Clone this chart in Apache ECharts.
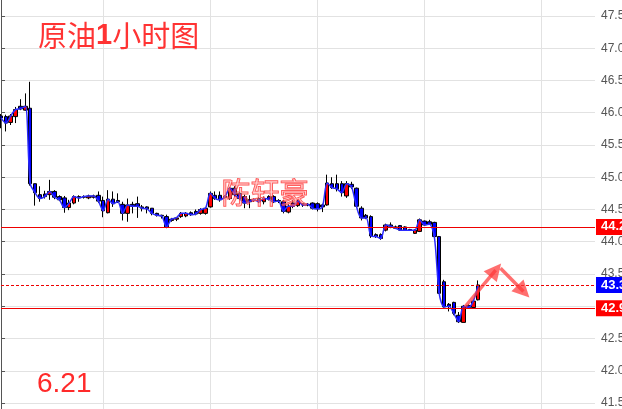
<!DOCTYPE html>
<html>
<head>
<meta charset="utf-8">
<script src="https://cdn.jsdelivr.net/npm/echarts@6/dist/echarts.min.js"></script>
<style>
html,body{margin:0;padding:0;background:#fff;}
#c{width:622px;height:409px;}
</style>
</head>
<body>
<div id="c"></div>
<script>
// ---- data ----
const opens  = [45.95,45.94,45.85,45.94,46.10,46.04,46.07,44.90,44.73,44.74,44.73,44.78,44.70,44.68,44.53,44.60,44.70,44.69,44.68,44.69,
                44.72,44.64,44.45,44.66,44.64,44.58,44.44,44.58,44.59,44.54,44.54,44.52,44.44,44.41,44.39,44.33,44.35,44.39,44.40,44.45,
                44.47,44.44,44.44,44.54,44.72,44.72,44.69,44.67,44.83,44.75,44.70,44.65,44.64,44.67,44.62,44.70,44.70,44.64,44.62,44.46,
                44.60,44.56,44.59,44.57,44.60,44.59,44.57,44.57,44.90,44.90,44.90,44.71,44.89,44.83,44.52,44.41,44.39,44.11,44.11,44.18,
                44.26,44.23,44.25,44.23,44.19,44.13,44.16,44.32,44.31,44.30,44.08,43.38,43.03,43.06,42.86,42.75,43.01,42.98,43.10];
const closes = [45.92,45.84,45.95,46.05,46.06,46.10,44.90,44.76,44.67,44.70,44.78,44.69,44.65,44.53,44.60,44.70,44.68,44.70,44.71,44.71,
                44.63,44.48,44.66,44.59,44.62,44.44,44.57,44.55,44.55,44.52,44.51,44.44,44.41,44.40,44.23,44.35,44.37,44.44,44.44,44.42,
                44.43,44.50,44.52,44.75,44.67,44.65,44.70,44.83,44.73,44.67,44.60,44.62,44.65,44.62,44.67,44.66,44.62,44.63,44.47,44.55,
                44.55,44.63,44.57,44.58,44.52,44.51,44.54,44.91,44.84,44.82,44.76,44.90,44.85,44.55,44.37,44.37,44.09,44.08,44.05,44.26,
                44.24,44.21,44.18,44.18,44.18,44.18,44.34,44.26,44.27,44.08,43.20,42.99,43.00,42.89,42.76,43.00,42.98,43.08,43.33];
const lows   = [45.76,45.71,45.81,45.84,46.04,46.03,44.87,44.56,44.62,44.67,44.65,44.66,44.63,44.45,44.49,44.58,44.62,44.67,44.66,44.67,
                44.60,44.38,44.44,44.54,44.60,44.33,44.31,44.44,44.37,44.47,44.44,44.41,44.39,44.36,44.21,44.31,44.32,44.37,44.38,44.40,
                44.41,44.42,44.42,44.53,44.65,44.62,44.67,44.65,44.70,44.65,44.52,44.52,44.62,44.60,44.58,44.64,44.60,44.60,44.44,44.44,
                44.52,44.54,44.54,44.55,44.50,44.47,44.46,44.56,44.82,44.78,44.70,44.68,44.82,44.53,44.33,44.35,44.06,44.06,44.03,44.16,
                44.21,44.20,44.17,44.17,44.17,44.12,44.15,44.25,44.26,44.07,43.19,42.98,42.92,42.86,42.74,42.75,42.97,42.96,43.09];
const highs  = [45.98,45.97,45.98,46.09,46.21,46.30,46.48,44.90,44.86,44.79,44.96,44.80,44.72,44.71,44.65,44.72,44.72,44.72,44.73,44.73,
                44.78,44.70,44.80,44.78,44.75,44.62,44.67,44.62,44.70,44.57,44.55,44.52,44.45,44.42,44.42,44.37,44.38,44.46,44.46,44.47,
                44.50,44.52,44.53,44.78,44.78,44.78,44.72,44.85,44.86,44.77,44.73,44.72,44.67,44.69,44.70,44.72,44.72,44.66,44.65,44.58,
                44.65,44.65,44.60,44.60,44.61,44.61,44.59,45.04,45.00,45.04,44.94,44.94,44.93,44.84,44.55,44.43,44.41,44.13,44.13,44.28,
                44.30,44.25,44.26,44.24,44.20,44.19,44.36,44.33,44.34,44.31,44.09,43.41,43.05,43.07,42.91,43.02,43.03,43.10,43.40];
const categoryCount = 123;                       // slots on the time axis (candles + empty space on the right)
const gridLineSlots = [21, 43, 65, 87, 111];     // slots carrying a vertical grid line
const levelValues = [44.23, 43.33, 42.97];       // horizontal price levels
const arrowPoints = [[95.30, 42.99], [101.60, 43.56], [102.59, 43.59], [107.30, 43.23]]; // [slot, price]
const yRange = [41.407, 47.748];

// ---- chart ----
const categories = Array.from({length: categoryCount}, (_, i) => String(i));
const candleData = opens.map((o, i) => [o, closes[i], lows[i], highs[i]]);

const levelStyles = [
  {line: {color: '#ee0000', width: 1, type: 'solid'}, bg: '#ff0000'},
  {line: {color: '#ee0000', width: 1, type: [3, 2]}, bg: '#0000ff'},
  {line: {color: '#ee0000', width: 1, type: 'solid'}, bg: '#ff0000'}
];

const chart = echarts.init(document.getElementById('c'), null, {renderer: 'canvas'});
const option = {
  animation: false,
  backgroundColor: '#ffffff',
  grid: {left: 1, right: 27, top: 0, bottom: 0, containLabel: false, outerBoundsMode: 'none'},
  xAxis: [
    {
      type: 'category', data: categories, boundaryGap: false,
      axisLine: {show: false}, axisTick: {show: false}, axisLabel: {show: false},
      splitLine: {show: true, interval: (idx) => gridLineSlots.indexOf(idx) >= 0,
                  lineStyle: {color: '#e2e2e2', width: 1}}
    },
    {type: 'value', min: 0, max: categoryCount - 1, show: false}
  ],
  yAxis: {
    type: 'value', position: 'right', min: yRange[0], max: yRange[1], splitNumber: 12,
    axisLine: {show: true, lineStyle: {color: '#555', width: 1}},
    axisTick: {show: true, length: 4, lineStyle: {color: '#555'}},
    axisLabel: {show: true, color: '#555', fontSize: 12, fontFamily: '"Liberation Sans", Arial, sans-serif',
                margin: 6, showMinLabel: false, showMaxLabel: false,
                formatter: (v) => v.toFixed(1)},
    splitLine: {show: true, showMinLine: false, showMaxLine: false, lineStyle: {color: '#e2e2e2', width: 1}}
  },
  series: [
    {
      type: 'candlestick', data: candleData, barWidth: 4, clip: false, z: 2,
      itemStyle: {color: '#ff0000', color0: '#0000ff', borderColor: '#000', borderColor0: '#000', borderWidth: 1},
      markLine: {
        silent: true, symbol: 'none', animation: false,
        data: levelValues.map((v, k) => ({
          yAxis: v,
          lineStyle: levelStyles[k].line,
          label: {
            show: true, position: 'end', distance: 1,
            formatter: () => v.toFixed(2),
            color: '#fff', fontWeight: 'bold', fontSize: 13,
            fontFamily: '"Liberation Sans", Arial, sans-serif',
            backgroundColor: levelStyles[k].bg, padding: [2, 6, 1, 5]
          }
        }))
      }
    },
    {
      type: 'line', data: closes, smooth: 0.3, symbol: 'none', showSymbol: false, z: 3,
      lineStyle: {color: '#2b2bff', width: 1.5}
    },
    {
      type: 'lines', coordinateSystem: 'cartesian2d', xAxisIndex: 1, yAxisIndex: 0, z: 5,
      symbol: ['none', 'triangle'], symbolSize: [14, 17],
      lineStyle: {color: 'rgba(255,55,55,0.85)', width: 3.5, opacity: 0.85},
      data: [
        {coords: [arrowPoints[0], arrowPoints[1]]},
        {coords: [arrowPoints[2], arrowPoints[3]]}
      ]
    }
  ],
  graphic: [
    {
      type: 'text', left: 38, top: 21, z: 20,
      style: {
        text: '原油{b|1}小时图',
        font: '29px "Noto Sans CJK SC"', fill: '#ff3333',
        rich: {b: {fontFamily: '"Liberation Sans"', fontWeight: 'bold', fontSize: 29, fill: '#ff3333'}}
      }
    },
    {
      type: 'text', left: 37, top: 370, z: 20,
      style: {text: '6.21', font: '28px "Liberation Sans"', fill: '#ff2a2a'}
    },
    {
      type: 'text', left: 221, top: 178, z: 20,
      style: {text: '陈轩豪', font: '29px "Noto Sans CJK SC"', fill: 'rgba(255,150,150,0.45)',
              stroke: 'rgba(255,30,30,0.8)', lineWidth: 1}
    }
  ]
};
chart.setOption(option);
</script>
</body>
</html>
